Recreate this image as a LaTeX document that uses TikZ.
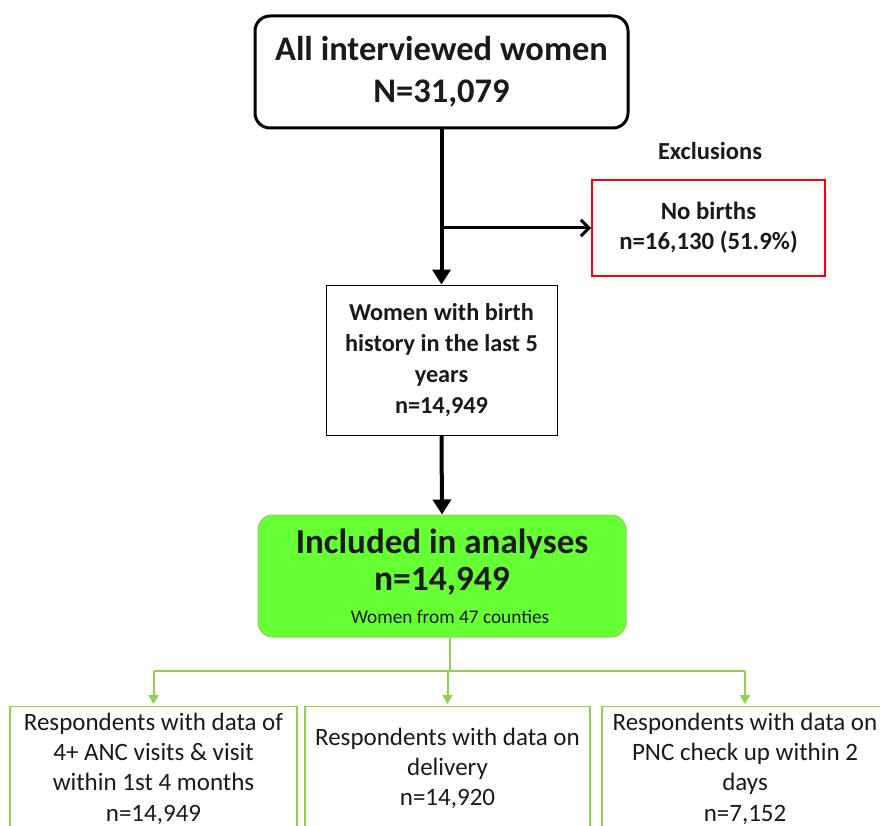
\documentclass[tikz,border=0pt]{standalone}
\usepackage{fontspec}
\setmainfont{Carlito}
\usetikzlibrary{arrows.meta}
\definecolor{gfill}{HTML}{66FF33}
\definecolor{gline}{HTML}{92D050}
\definecolor{gborder}{HTML}{8ED34F}
\definecolor{rline}{HTML}{FF0000}
\definecolor{txt}{HTML}{1A1A1A}
\begin{document}
\begin{tikzpicture}[x=1pt,y=-1pt,
  every node/.style={text=txt},
  topbox/.style={draw=black,line width=3pt,rounded corners=15pt,minimum width=373pt,minimum height=112pt,align=center,font=\fontsize{34.5}{42}\selectfont\bfseries},
  redbox/.style={draw=rline,line width=2pt,minimum width=233pt,minimum height=95pt,align=center,font=\fontsize{24.8}{30}\selectfont\bfseries},
  midbox/.style={draw=black,line width=1pt,minimum width=231pt,minimum height=150pt,align=center,font=\fontsize{24.3}{31}\selectfont\bfseries},
  incbox/.style={draw=gborder,fill=gfill,line width=1pt,rounded corners=15pt,minimum width=368pt,minimum height=122pt},
  botbox/.style={draw=gborder,line width=1.2pt,minimum width=287pt,minimum height=124pt,anchor=north,align=center,font=\fontsize{25}{30.3}\selectfont},
  blk/.style={line width=4pt,draw=black,-{Triangle[length=15pt,width=18pt]}},
  blkbar/.style={line width=3pt,draw=black,-{Straight Barb[length=8pt,width=16pt,line width=3pt]}},
  grn/.style={line width=2pt,draw=gline},
  grnarr/.style={grn,-{Triangle[length=9pt,width=10pt]}}
]
\useasboundingbox (0,0) rectangle (880,826);
\clip (0,0) rectangle (880,826);
\fill[white] (0,0) rectangle (880,826);

\node[topbox] (top) at (441.5,72) {All interviewed women\\N=31,079};
\node[font=\fontsize{24.5}{26}\selectfont\bfseries] (excl) at (710,151) {Exclusions};
\node[redbox] (nob) at (708.5,228) {No births\\n=16,130 (51.9\%)};
\node[midbox] (mid) at (441.5,360) {Women with birth\\history in the last 5\\years\\n=14,949};
\node[incbox] (inc) at (442,576) {};
\node[font=\fontsize{35}{36}\selectfont\bfseries] (inc1) at (442,544) {Included in analyses};
\node[font=\fontsize{35.5}{36}\selectfont\bfseries] (inc2) at (442,581) {n=14,949};
\node[font=\fontsize{19.3}{21}\selectfont] (inc3) at (450,617) {Women from 47 counties};

\node[botbox] (b1) at (153.5,706) {Respondents with data of\\4+ ANC visits \& visit\\within 1st 4 months\\n=14,949};
\node[botbox,minimum width=285pt] (b2) at (447.5,706) {Respondents with data on\\delivery\\n=14,920};
\node[botbox,minimum width=286pt] (b3) at (745,706) {Respondents with data on\\PNC check up within 2\\days\\n=7,152};

\draw[blk] (top.south) -- (mid.north);
\coordinate (br) at (top.south |- nob.west);
\draw[blkbar] (br) -- (nob.west);
\draw[blk] (mid.south) -- (inc.north);

\coordinate (trunk) at ([xshift=8pt]inc.south);
\coordinate (split) at ([yshift=-33pt]trunk);
\draw[grn] (trunk) -- (split);
\draw[grn] (b1.north |- split) -- (b3.north |- split);
\draw[grnarr] (b1.north |- split) -- ([yshift=2pt]b1.north);
\draw[grnarr] (b2.north |- split) -- ([yshift=2pt]b2.north);
\draw[grnarr] (b3.north |- split) -- ([yshift=2pt]b3.north);
\end{tikzpicture}
\end{document}
